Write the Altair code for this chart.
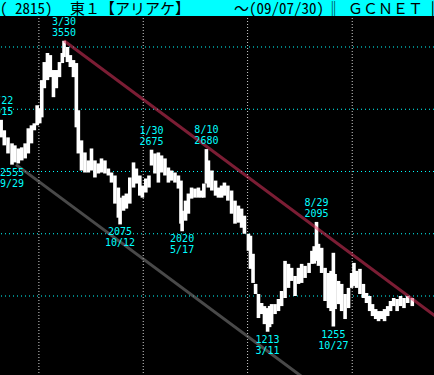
import altair as alt
import pandas as pd

# Bar dates with high / low prices (yen)
dates = [
    "2005-08-22", "2005-09-02", "2005-09-15", "2005-09-29", "2005-10-09", "2005-10-21",
    "2005-11-02", "2005-11-14", "2005-11-25", "2005-12-06", "2005-12-16", "2005-12-26",
    "2006-01-04", "2006-01-11", "2006-01-20", "2006-01-31", "2006-02-10", "2006-02-21",
    "2006-03-03", "2006-03-14", "2006-03-24", "2006-03-30", "2006-04-11", "2006-04-21",
    "2006-05-02", "2006-05-12", "2006-05-19", "2006-05-30", "2006-06-11", "2006-06-23",
    "2006-07-04", "2006-07-16", "2006-07-28", "2006-08-08", "2006-08-20", "2006-09-01",
    "2006-09-12", "2006-09-24", "2006-10-06", "2006-10-12", "2006-10-24", "2006-11-03",
    "2006-11-15", "2006-11-28", "2006-12-08", "2006-12-20", "2006-12-29", "2007-01-10",
    "2007-01-21", "2007-01-30", "2007-02-11", "2007-02-23", "2007-03-06", "2007-03-18",
    "2007-03-30", "2007-04-10", "2007-04-22", "2007-05-04", "2007-05-13", "2007-05-17",
    "2007-05-29", "2007-06-08", "2007-06-19", "2007-07-01", "2007-07-13", "2007-07-24",
    "2007-08-01", "2007-08-10", "2007-08-17", "2007-08-29", "2007-09-11", "2007-09-21",
    "2007-10-02", "2007-10-12", "2007-10-24", "2007-11-06", "2007-11-18", "2007-11-30",
    "2007-12-11", "2007-12-21", "2008-01-04", "2008-01-11", "2008-01-20", "2008-01-29",
    "2008-02-08", "2008-02-19", "2008-02-29", "2008-03-11", "2008-03-18", "2008-03-25",
    "2008-04-06", "2008-04-18", "2008-04-29", "2008-05-11", "2008-05-23", "2008-06-03",
    "2008-06-15", "2008-06-27", "2008-07-08", "2008-07-20", "2008-08-03", "2008-08-13",
    "2008-08-21", "2008-08-29", "2008-09-05", "2008-09-16", "2008-09-28", "2008-10-10",
    "2008-10-19", "2008-10-27", "2008-11-02", "2008-11-14", "2008-11-25", "2008-12-07",
    "2008-12-19", "2008-12-30", "2009-01-07", "2009-01-16", "2009-01-28", "2009-02-09",
    "2009-02-20", "2009-03-03", "2009-03-13", "2009-03-24", "2009-04-03", "2009-04-14",
    "2009-04-24", "2009-05-05", "2009-05-15", "2009-05-26", "2009-06-07", "2009-06-19",
    "2009-07-01", "2009-07-14", "2009-07-30",
]
highs = [
    2915, 2831, 2774, 2726, 2710, 2685, 2694, 2726, 2847, 2871, 2887, 3032,
    3008, 3234, 3379, 3452, 3435, 3315, 3315, 3379, 3452, 3550, 3500, 3435,
    3395, 3371, 2992, 2750, 2653, 2589, 2685, 2589, 2565, 2605, 2589, 2524,
    2492, 2468, 2371, 2290, 2306, 2323, 2452, 2573, 2524, 2468, 2387, 2444,
    2468, 2675, 2645, 2653, 2629, 2605, 2532, 2508, 2492, 2468, 2427, 2185,
    2266, 2323, 2371, 2363, 2371, 2347, 2403, 2680, 2589, 2508, 2427, 2371,
    2387, 2411, 2387, 2347, 2266, 2226, 2202, 2145, 2000, 1984, 1839, 1597,
    1516, 1444, 1419, 1403, 1420, 1435, 1435, 1476, 1540, 1782, 1758, 1726,
    1661, 1726, 1758, 1742, 1766, 1863, 1900, 2095, 1919, 1887, 1726, 1685,
    1702, 1847, 1677, 1621, 1597, 1516, 1565, 1685, 1766, 1702, 1718, 1597,
    1524, 1500, 1435, 1395, 1379, 1379, 1395, 1419, 1460, 1484, 1476, 1500,
    1484, 1500, 1484,
]
lows = [
    2774, 2710, 2645, 2555, 2573, 2565, 2589, 2605, 2645, 2726, 2831, 2871,
    2887, 2935, 3169, 3234, 3258, 3097, 3169, 3258, 3371, 3419, 3379, 3339,
    3258, 2855, 2645, 2508, 2492, 2492, 2508, 2452, 2484, 2492, 2484, 2468,
    2411, 2242, 2129, 2075, 2185, 2202, 2242, 2371, 2403, 2306, 2290, 2331,
    2371, 2548, 2484, 2411, 2492, 2468, 2411, 2427, 2411, 2363, 2081, 2020,
    2105, 2161, 2282, 2290, 2290, 2290, 2290, 2403, 2371, 2347, 2306, 2290,
    2290, 2306, 2266, 2161, 2081, 2089, 2048, 2000, 1863, 1718, 1605, 1516,
    1323, 1355, 1274, 1213, 1250, 1274, 1355, 1379, 1419, 1484, 1565, 1621,
    1500, 1597, 1605, 1645, 1685, 1758, 1760, 1782, 1742, 1685, 1460, 1403,
    1379, 1255, 1395, 1435, 1379, 1315, 1403, 1565, 1581, 1565, 1516, 1484,
    1444, 1379, 1339, 1315, 1298, 1315, 1298, 1339, 1379, 1419, 1379, 1419,
    1403, 1444, 1419,
]

# Annotated peaks and troughs
peak_days = ["2005-08-22", "2006-03-30", "2007-01-30", "2007-08-10", "2008-08-29"]
peak_tags = ["8/22", "3/30", "1/30", "8/10", "8/29"]
peak_prices = [2915, 3550, 2675, 2680, 2095]

trough_days = ["2005-09-29", "2006-10-12", "2007-05-17", "2008-03-11", "2008-10-27"]
trough_tags = ["9/29", "10/12", "5/17", "3/11", "10/27"]
trough_prices = [2555, 2075, 2020, 1213, 1255]

# Trend channel lines
resist_days = ["2006-03-30", "2009-11-15"]
resist_prices = [3550, 1292]
support_days = ["2005-10-13", "2008-09-27"]
support_prices = [2555, 716]

# Grid
grid_prices = [1500, 2000, 2500, 3000, 3500]
grid_years = ["2006-01-01", "2007-01-01", "2008-01-01", "2009-01-01"]

W, H = 434, 375
CYAN = "#00FFFF"
LABEL_FONT = "DejaVu Sans Mono"
HEAD_FONT = "Noto Sans Mono CJK JP, Noto Sans CJK JP, monospace"
LINE_H = 11

bars = pd.DataFrame({"date": dates, "high": highs, "low": lows})
peaks = pd.DataFrame({
    "date": peak_days, "price": peak_prices,
    "label": [f"{t}\n{p}" for t, p in zip(peak_tags, peak_prices)],
})
troughs = pd.DataFrame({
    "date": trough_days, "price": trough_prices,
    "label": [f"{p}\n{t}" for t, p in zip(trough_tags, trough_prices)],
})
resist = pd.DataFrame({"date": resist_days, "price": resist_prices})
support = pd.DataFrame({"date": support_days, "price": support_prices})
hgrid = pd.DataFrame({"price": grid_prices})
vgrid = pd.DataFrame({"date": grid_years})

xs = alt.Scale(domain=[alt.DateTime(year=2005, month=8, date=18, utc=True),
                       alt.DateTime(year=2009, month=10, date=14, utc=True)])
ys = alt.Scale(domain=[865.5, 3877.5], nice=False, zero=False)

X = lambda f: alt.X(f"{f}:T", scale=xs, axis=None)
Y = lambda f: alt.Y(f"{f}:Q", scale=ys, axis=None)

h_lines = alt.Chart(hgrid).mark_rule(color=CYAN, strokeWidth=1, strokeDash=[1, 3]).encode(
    y=Y("price"))
v_lines = alt.Chart(vgrid).mark_rule(color="#d0d0d0", strokeWidth=1, strokeDash=[1, 2]).encode(
    x=X("date"))

support_line = alt.Chart(support).mark_line(color="#7a7a7a", opacity=0.6, strokeWidth=3,
                                            clip=True).encode(x=X("date"), y=Y("price"))
price_bars = alt.Chart(bars).mark_rule(color="white", strokeWidth=3.6).encode(
    x=X("date"), y=Y("low"), y2="high")
resist_line = alt.Chart(resist).mark_line(color="#E0345E", opacity=0.55, strokeWidth=3,
                                          clip=True).encode(x=X("date"), y=Y("price"))

# two-line tags: first line sits one line-height above the last
peak_text = alt.Chart(peaks).mark_text(
    lineBreak="\n", align="center", baseline="bottom", dy=-3 - LINE_H, font=LABEL_FONT,
    fontSize=10, lineHeight=LINE_H, color=CYAN).encode(x=X("date"), y=Y("price"), text="label:N")
trough_text = alt.Chart(troughs).mark_text(
    lineBreak="\n", align="center", baseline="top", dy=3, font=LABEL_FONT,
    fontSize=10, lineHeight=LINE_H, color=CYAN).encode(x=X("date"), y=Y("price"), text="label:N")

one = alt.Data(values=[{"k": 1}])
header = alt.Chart(one).mark_rect(color=CYAN).encode(
    x=alt.value(0), x2=alt.value(W), y=alt.value(0), y2=alt.value(16))


def head_text(txt, x):
    return alt.Chart(one).mark_text(
        text=txt, align="left", baseline="alphabetic", font=HEAD_FONT, fontSize=15,
        color="black").encode(x=alt.value(x), y=alt.value(14))


chart = alt.layer(
    h_lines, v_lines, support_line, price_bars, resist_line, peak_text, trough_text,
    header,
    head_text("( 2815)", 0),
    head_text("東１【アリアケ】", 70),
    head_text("～(09/07/30)", 234),
    head_text("‖", 326),
    head_text("ＧＣＮＥＴ", 348),
    head_text("|", 429),
).properties(
    width=W, height=H, padding=0, background="black",
    autosize=alt.AutoSizeParams(type="none"),
).configure_view(stroke=None)

chart.save("out.html", embed_options={"renderer": "svg", "actions": False})
